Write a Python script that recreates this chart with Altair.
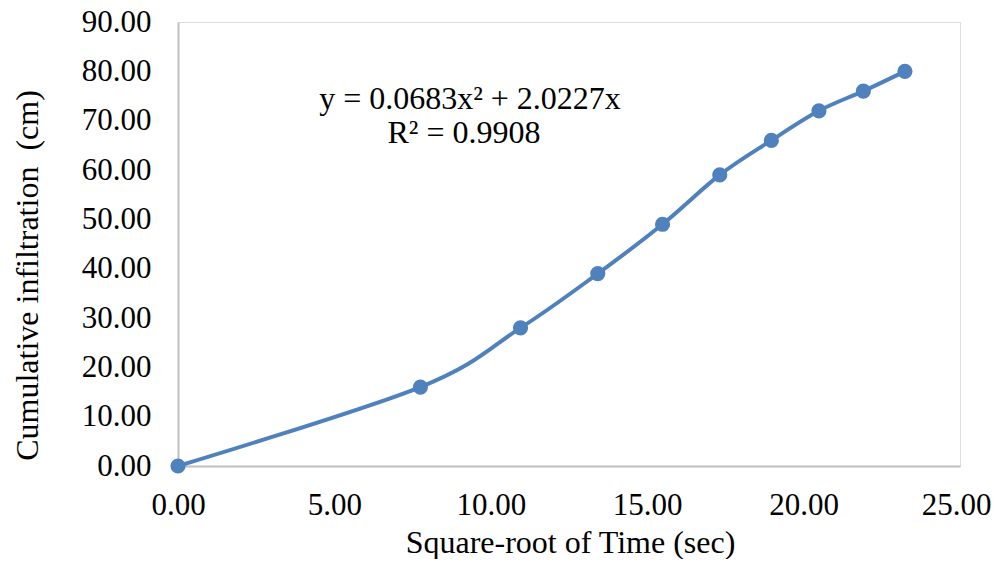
import altair as alt
import pandas as pd

sqrt_time = [0.0, 7.75, 10.95, 13.42, 15.49, 17.32, 18.97, 20.49, 21.91, 23.24]
cum_infiltration = [0.0, 16.0, 28.0, 39.0, 49.0, 59.0, 66.0, 72.0, 76.0, 80.0]
x_ticks = [0, 5, 10, 15, 20, 25]
y_ticks = [0, 10, 20, 30, 40, 50, 60, 70, 80, 90]
eq_line1 = "y = 0.0683x\u00b2 + 2.0227x"
eq_line2 = "R\u00b2 = 0.9908"

df = pd.DataFrame({"x": sqrt_time, "y": cum_infiltration})

FONT = "Liberation Serif"
BLUE = "#4F81BD"
FS = 32
LFS = 31

x_enc = alt.X(
    "x:Q",
    scale=alt.Scale(domain=[0, 25], nice=False),
    axis=alt.Axis(
        title="Square-root of Time (sec)",
        values=x_ticks,
        format=".2f",
        grid=False,
        ticks=False,
        tickSize=0,
        labelPadding=39,
        labelBaseline="middle",
        labelFontSize=LFS,
        labelFont=FONT,
        labelColor="black",
        labelOffset={"condition": {"test": "datum.value == 25", "value": -4}, "value": 0},
        titleFont=FONT,
        titleFontSize=FS,
        titleFontWeight="normal",
        titleColor="black",
        titleBaseline="middle",
        titleX=392,
        titleY=76,
        domainColor="#BFBFBF",
        domainWidth=2,
        labelFlush=False,
    ),
)
y_enc = alt.Y(
    "y:Q",
    scale=alt.Scale(domain=[0, 90], nice=False),
    axis=alt.Axis(
        title="Cumulative infiltration\u00a0 (cm)",
        values=y_ticks,
        format=".2f",
        grid=False,
        ticks=False,
        tickSize=0,
        labelPadding=27,
        labelFontSize=LFS,
        labelFont=FONT,
        labelColor="black",
        titleFont=FONT,
        titleFontSize=FS,
        titleFontWeight="normal",
        titleColor="black",
        titleAngle=270,
        titleAlign="center",
        titleBaseline="middle",
        titleX=-151,
        titleY=253,
        domainColor="#BFBFBF",
        domainWidth=2,
        labelFlush=False,
    ),
)

base = alt.Chart(df)
line = base.mark_line(color=BLUE, strokeWidth=4, interpolate="cardinal").encode(x=x_enc, y=y_enc)
pts = base.mark_circle(color=BLUE, size=230, opacity=1).encode(x="x:Q", y="y:Q")

t1 = alt.Chart(pd.DataFrame({"t": [eq_line1]})).mark_text(
    font=FONT, fontSize=FS, color="black", align="center", baseline="middle"
).encode(text="t:N", x=alt.value(292), y=alt.value(77))
t2 = alt.Chart(pd.DataFrame({"t": [eq_line2]})).mark_text(
    font=FONT, fontSize=FS, color="black", align="center", baseline="middle"
).encode(text="t:N", x=alt.value(286), y=alt.value(111))

chart = (
    alt.layer(line, pts, t1, t2)
    .properties(
        width=782,
        height=444,
        autosize=alt.AutoSizeParams(type="none"),
        padding={"left": 170, "top": 14, "right": 32, "bottom": 93},
    )
    .configure_view(stroke=None)
    .configure(background="white")
)

chart.save("out.html", embed_options={"renderer": "svg", "actions": False})
